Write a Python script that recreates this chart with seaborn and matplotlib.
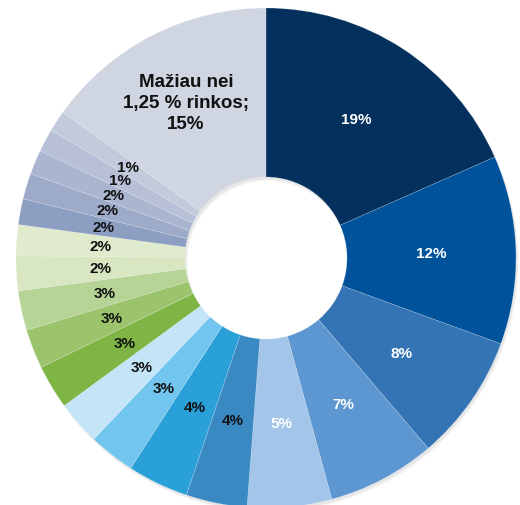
import numpy as np
import matplotlib.pyplot as plt
import seaborn as sns

sns.set_theme(style="white")
plt.rcParams['font.family'] = ['Liberation Sans', 'DejaVu Sans']

# Market shares (clockwise from 12 o'clock)
shares = [18.4, 12.2, 8.2, 7.0, 5.45, 3.95, 3.95, 3.0, 2.85, 2.85,
          2.55, 2.55, 2.25, 2.0, 1.67, 1.67, 1.58, 1.5, 1.36, 15.1]
labels = ["19%", "12%", "8%", "7%", "5%", "4%", "4%", "3%", "3%", "3%",
          "3%", "3%", "2%", "2%", "2%", "2%", "2%", "1%", "1%",
          "Mažiau nei\n1,25 % rinkos;\n15%"]
colors = ["#04305e", "#00539b", "#3474b4", "#5c97d2", "#a3c5e9",
          "#3a89c3", "#2aa0d8", "#72c5ee", "#c4e5f8",
          "#7fb545", "#9cc46c", "#b6d495", "#d8e6c1", "#e0eacd",
          "#8c9ec2", "#9dabc9", "#aab6cf", "#b7c0d6", "#c2cadb", "#d0d5e2"]
text_colors = ["white"] * 5 + ["#111111"] * 15

fig = plt.figure(figsize=(5.2, 5.06), dpi=100)
ax = fig.add_axes([16 / 520, -3 / 506, 500 / 520, 500 / 506])

inner = 81 / 250

# soft drop shadow behind the ring
for off, a in [(0.016, 0.08), (0.010, 0.12)]:
    ax.pie(shares, radius=1.0, startangle=90, counterclock=False,
           colors=["#808080"] * len(shares), center=(off * 0.6, -off),
           wedgeprops=dict(width=1 - inner, linewidth=0, alpha=a))

wedges, _ = ax.pie(shares, radius=1.0, startangle=90, counterclock=False,
                   colors=colors,
                   wedgeprops=dict(width=1 - inner,
                                   edgecolor=(1, 1, 1, 0.3),
                                   linewidth=0.4))

for i, w in enumerate(wedges):
    ang = np.deg2rad((w.theta1 + w.theta2) / 2)
    big = i == len(wedges) - 1
    r = 0.70 if big else 0.662
    ax.text(r * np.cos(ang), r * np.sin(ang), labels[i],
            ha="center", va="center", color=text_colors[i],
            fontsize=13.5 if big else 11, fontweight="bold",
            linespacing=1.3)

ax.set_xlim(-1, 1)
ax.set_ylim(-1, 1)
ax.set_aspect("equal")
ax.axis("off")

fig.savefig("out.png", dpi=100)
